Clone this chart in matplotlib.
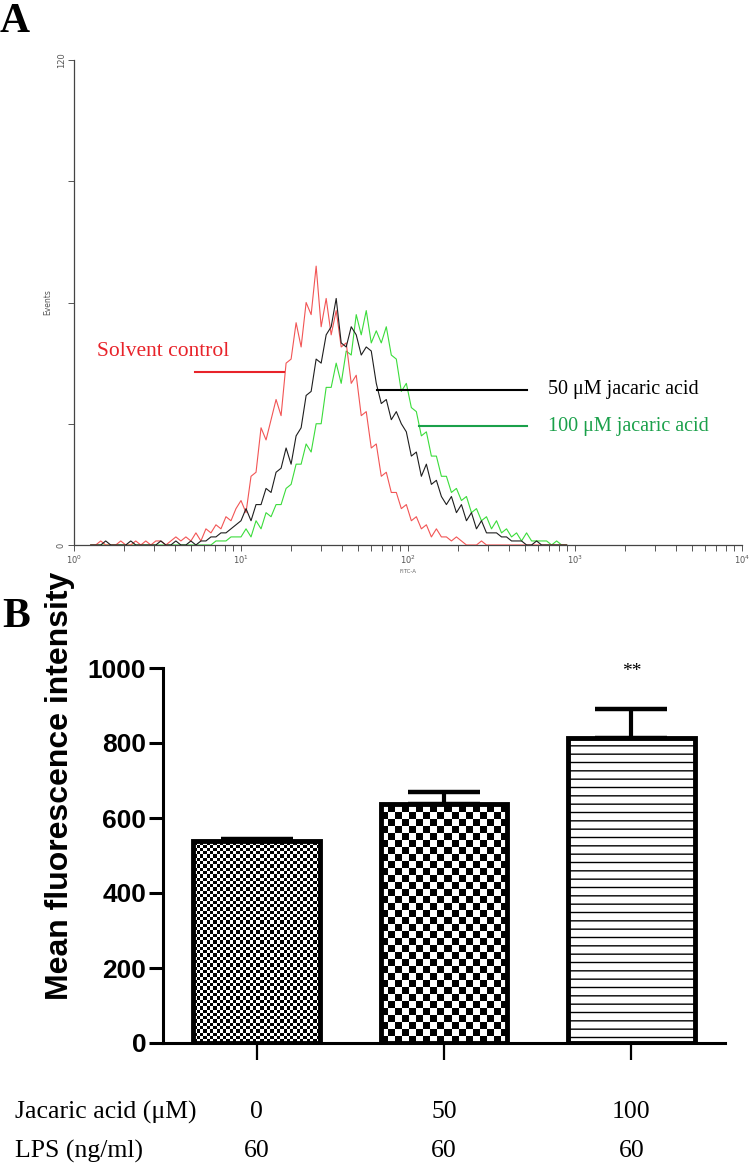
import numpy as np
import matplotlib
matplotlib.use('Agg')
import matplotlib.pyplot as plt
from matplotlib.lines import Line2D
from matplotlib.ticker import NullFormatter, FixedLocator
from matplotlib.transforms import blended_transform_factory

# ---------------- Panel A data: flow cytometry histograms ----------------
channel_log = np.round(np.arange(0.10, 2.96, 0.03), 2)   # log10(FITC-A) channel positions
red_counts = [0, 0, 1, 0, 0, 0, 1, 0, 0, 1, 0, 1,
              0, 1, 1, 0, 1, 2, 1, 2, 1,
              3, 1, 4, 3, 5, 4, 7, 6, 9,
              11, 8, 17, 18, 29, 26, 31, 36, 32, 45,
              46, 55, 49, 60, 57, 69, 54, 61, 52, 58,
              49, 50, 40, 42, 32, 33, 24, 25, 17, 18,
              13, 13, 9, 10, 6, 7, 4, 5, 2, 4,
              2, 2, 1, 2, 1, 0, 0, 0, 1, 0,
              0, 0, 0, 0, 0, 0, 0, 0, 0, 0, 0, 0, 0, 0, 0, 0]
black_counts = [0, 0, 0, 1, 0, 0, 0, 0, 1, 0, 0, 0, 0, 0, 1, 0, 0, 1, 0, 0, 1, 0,
                1, 1, 2, 2, 3, 3, 4, 5,
                6, 9, 6, 10, 10, 14, 13, 18, 19, 24,
                20, 27, 29, 37, 38, 46, 45, 52, 54, 61,
                50, 49, 54, 52, 47, 49, 48, 40, 35, 36,
                31, 33, 30, 28, 22, 23, 17, 20, 15, 16,
                12, 10, 12, 8, 10, 6, 8, 4, 6, 3,
                3, 3, 2, 2, 1, 1, 1, 0, 0, 1,
                0, 0, 0, 0, 0, 0]
green_counts = [0] * 25 + [1, 1, 1, 2, 2,
                           2, 4, 2, 6, 4, 8, 7, 10, 10, 14,
                           15, 20, 20, 25, 23, 30, 30, 39, 39, 45,
                           40, 48, 47, 57, 52, 58, 50, 53, 50, 54,
                           47, 46, 38, 40, 34, 33, 27, 28, 22, 22,
                           17, 17, 13, 14, 11, 12, 8, 9, 6, 7,
                           4, 6, 3, 4, 2, 3, 1, 3, 1, 1,
                           1, 1, 0, 1, 0, 0]
events_ticks = [0, 30, 60, 90, 120]
events_labels = ['0', '', '', '', '120']
decade_ticks = [1, 10, 100, 1000, 10000]
decade_labels = ['$10^{0}$', '$10^{1}$', '$10^{2}$', '$10^{3}$', '$10^{4}$']
legend_labels = ['Solvent control', '50 μM jacaric acid', '100 μM jacaric acid']

# ---------------- Panel B data: mean fluorescence intensity ----------------
jacaric = ['0', '50', '100']
lps = ['60', '60', '60']
mfi = [540, 637, 813]
mfi_err = [5, 33, 78]
mfi_ticks = [0, 200, 400, 600, 800, 1000]

W, H = 750, 1173
fig = plt.figure(figsize=(W / 100, H / 100), dpi=100)


def fx(x):
    return x / W


def fy(y):
    return 1 - y / H


serif = ['Liberation Serif', 'DejaVu Serif']
sans = ['Liberation Sans', 'DejaVu Sans']

# ======================= Panel A =======================
axA = fig.add_axes([fx(74), fy(545), (742 - 74) / W, (545 - 60) / H])
xs = 10 ** channel_log
axA.plot(xs, red_counts, color='#f25555', lw=0.8, zorder=3)
axA.plot(xs, black_counts, color='#1e1e1e', lw=0.8, zorder=4)
axA.plot(xs, green_counts, color='#3bdc3b', lw=0.8, zorder=2)
axA.set_xscale('log')
axA.set_xlim(1, 1e4)
axA.set_ylim(0, 120)
for s in ['top', 'right']:
    axA.spines[s].set_visible(False)
for s in ['left', 'bottom']:
    axA.spines[s].set_color('#444444')
    axA.spines[s].set_linewidth(0.9)
axA.xaxis.set_major_locator(FixedLocator(decade_ticks))
axA.set_xticklabels(decade_labels)
axA.xaxis.set_minor_formatter(NullFormatter())
axA.set_yticks(events_ticks)
axA.set_yticklabels(events_labels, rotation=90, va='center')
axA.tick_params(axis='both', which='both', labelsize=6, colors='#555555',
                length=4, width=0.7, pad=2)
axA.set_xlabel('FITC-A', fontsize=4, color='#666666', labelpad=2)
axA.set_ylabel('Events', fontsize=5.5, color='#555555', labelpad=3)

red_c = '#e8232a'
green_c = '#1aa04a'
fig.add_artist(Line2D([fx(195), fx(284)], [fy(372), fy(372)], color=red_c, lw=1.5))
fig.text(fx(97), fy(352), legend_labels[0], color=red_c, fontsize=15.5,
         family=serif, va='center')
fig.add_artist(Line2D([fx(377), fx(527)], [fy(390), fy(390)], color='black', lw=1.5))
fig.text(fx(548), fy(390), legend_labels[1], color='black', fontsize=14.5,
         family=serif, va='center')
fig.add_artist(Line2D([fx(419), fx(527)], [fy(426), fy(426)], color=green_c, lw=1.5))
fig.text(fx(548), fy(426), legend_labels[2], color=green_c, fontsize=14.5,
         family=serif, va='center')

fig.text(0.0, fy(32), 'A', fontsize=30, weight='bold', family=serif, va='baseline')
fig.text(fx(2), fy(627), 'B', fontsize=30, weight='bold', family=serif, va='baseline')

# ======================= Panel B =======================
axB = fig.add_axes([fx(163), fy(1043), (725 - 163) / W, (1043 - 668) / H])
xpos = np.arange(len(mfi))
axB.set_xlim(-0.5, 2.5)
axB.set_ylim(0, 1000)
bars = axB.bar(xpos, mfi, width=0.675, facecolor='none', edgecolor='black',
               linewidth=3.5, zorder=3)
bars[2].set_facecolor('white')
bars[2].set_hatch('--')
plt.rcParams['hatch.linewidth'] = 1.6
axB.errorbar(xpos, mfi, yerr=[np.zeros(len(mfi)), mfi_err], fmt='none',
             ecolor='black', elinewidth=3, capsize=26, capthick=3.2, zorder=2)

# checkerboard fills for the first two bars
for bar, cell in zip(bars[:2], [3.3, 7.0]):
    x0 = bar.get_x()
    x1 = x0 + bar.get_width()
    h = bar.get_height()
    p0 = axB.transData.transform((x0, 0))
    p1 = axB.transData.transform((x1, h))
    wpx = int(round(p1[0] - p0[0]))
    hpx = int(round(p1[1] - p0[1]))
    yy, xx = np.mgrid[0:hpx, 0:wpx]
    arr = ((xx // cell + yy // cell) % 2).astype(float)
    im = axB.imshow(arr, cmap='gray', extent=[x0, x1, 0, h], origin='lower',
                    interpolation='nearest', aspect='auto', zorder=2.5)
    im.set_clip_path(bar)
axB.set_xlim(-0.5, 2.5)
axB.set_ylim(0, 1000)
axB.set_aspect('auto')

for s in ['top', 'right']:
    axB.spines[s].set_visible(False)
for s in ['left', 'bottom']:
    axB.spines[s].set_linewidth(2.2)
axB.set_yticks(mfi_ticks)
axB.set_yticklabels([str(t) for t in mfi_ticks], fontsize=19, weight='bold',
                    family=sans)
axB.tick_params(axis='y', length=10, width=2.2, pad=2)
axB.set_xticks(xpos)
axB.set_xticklabels([''] * len(xpos))
axB.tick_params(axis='x', length=12, width=1.6)

axB.text(xpos[2], mfi[2] + mfi_err[2] + 100, '**', ha='center', va='center',
         fontsize=14, family=serif, clip_on=False)

fig.text(fx(60), fy(786), 'Mean fluorescence intensity', rotation=90,
         fontsize=23, weight='bold', family=sans, ha='center', va='center')

trans = blended_transform_factory(axB.transData, fig.transFigure)
fig.text(fx(15), fy(1112), 'Jacaric acid (μM)', fontsize=18.5, family=serif, va='center')
fig.text(fx(15), fy(1151), 'LPS (ng/ml)', fontsize=18.5, family=serif, va='center')
for i in range(len(jacaric)):
    axB.text(xpos[i], fy(1112), jacaric[i], transform=trans, fontsize=18.5,
             family=serif, ha='center', va='center')
    axB.text(xpos[i], fy(1151), lps[i], transform=trans, fontsize=18.5,
             family=serif, ha='center', va='center')

fig.savefig('out.png', dpi=100)
